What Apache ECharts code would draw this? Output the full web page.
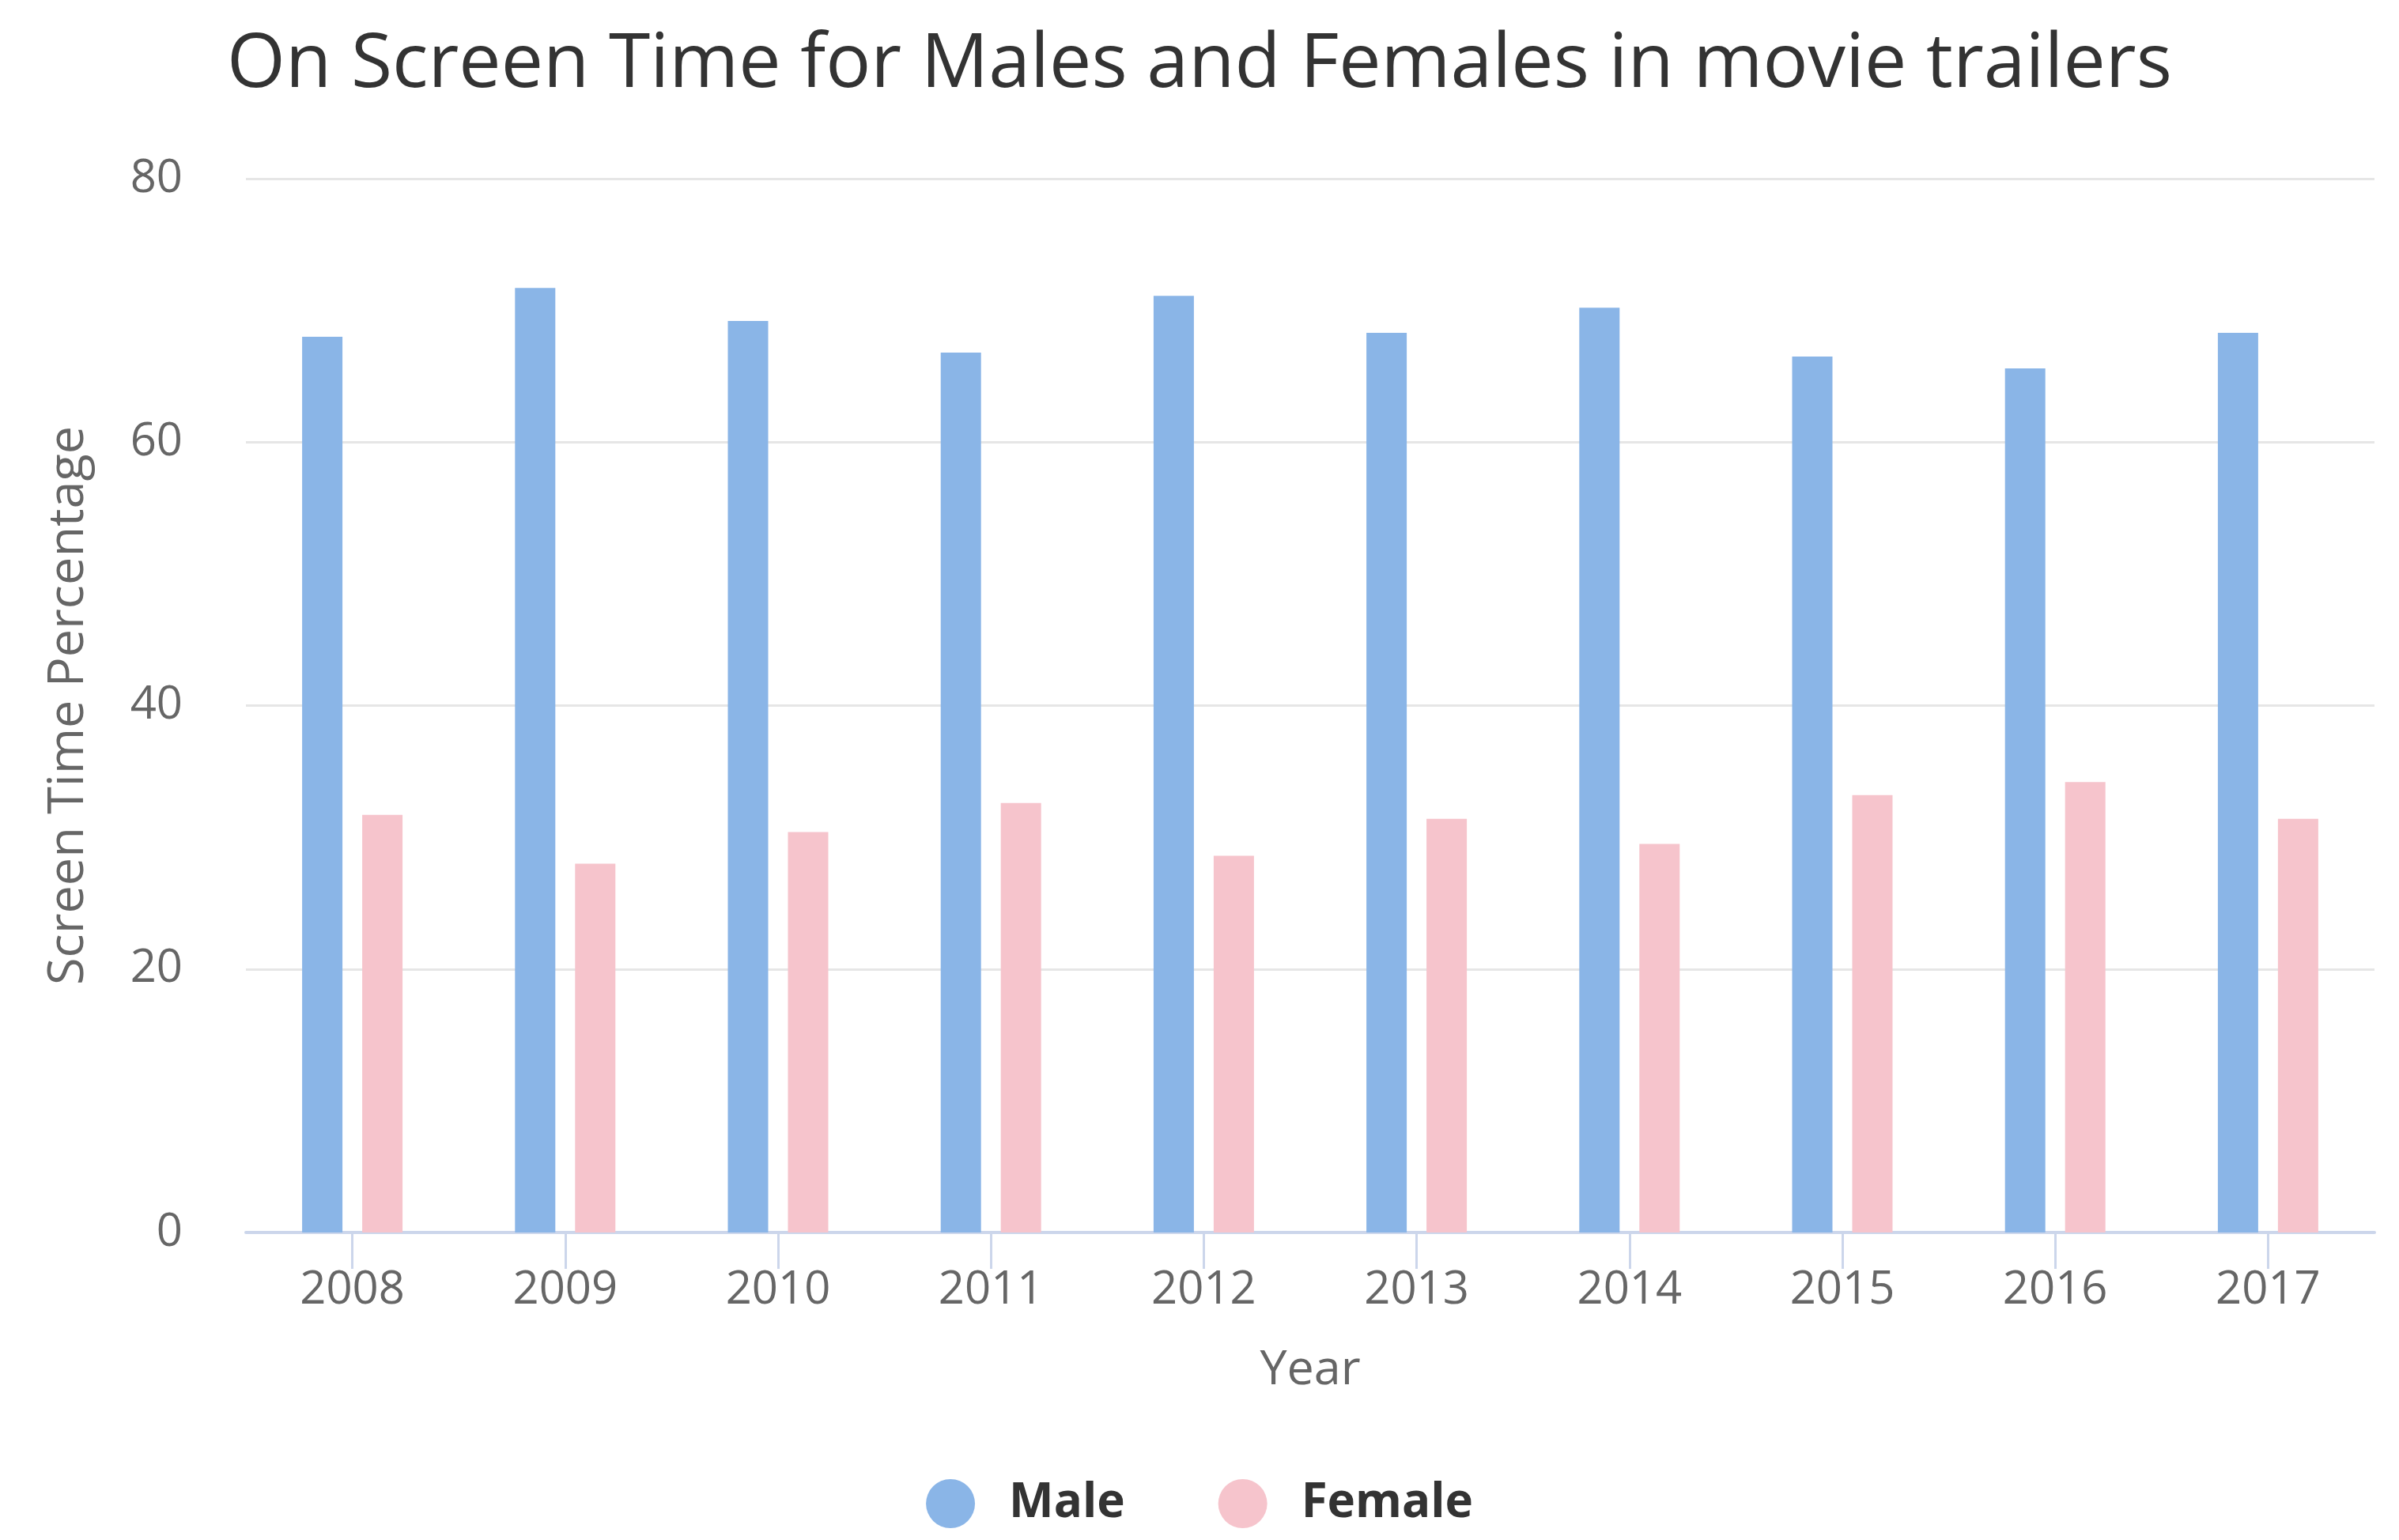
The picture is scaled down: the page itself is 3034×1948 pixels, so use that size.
<!DOCTYPE html>
<html>
<head>
<meta charset="utf-8">
<script src="https://cdn.jsdelivr.net/npm/echarts@6/dist/echarts.min.js"></script>
<style>
html,body{margin:0;padding:0;background:#fff;}
#chart{width:3034px;height:1948px;}
</style>
</head>
<body>
<div id="chart"></div>
<script>
var years = ['2008','2009','2010','2011','2012','2013','2014','2015','2016','2017'];
var male = [68.0, 71.7, 69.2, 66.8, 71.1, 68.3, 70.2, 66.5, 65.6, 68.3];
var female = [31.7, 28.0, 30.4, 32.6, 28.6, 31.4, 29.5, 33.2, 34.2, 31.4];
var yTicks = [0, 20, 40, 60, 80];

var FONT = '"Open Sans", "DejaVu Sans", sans-serif';
var chart = echarts.init(document.getElementById('chart'), null, {renderer: 'canvas'});
chart.setOption({
  animation: false,
  backgroundColor: '#ffffff',
  title: {
    text: 'On Screen Time for Males and Females in movie trailers',
    left: 'center',
    top: 30,
    textStyle: {fontFamily: FONT, fontSize: 95, fontWeight: 'normal', color: '#333333'}
  },
  legend: {
    data: ['Male', 'Female'],
    left: 'center',
    top: 1866,
    icon: 'circle',
    itemWidth: 62,
    itemHeight: 62,
    itemGap: 118,
    textStyle: {fontFamily: FONT, fontSize: 60, fontWeight: 'bold', color: '#333333', padding: [0, 0, 0, 38]}
  },
  grid: {left: 311, right: 31, top: 226, bottom: 389, containLabel: false},
  xAxis: {
    type: 'category',
    data: years,
    name: 'Year',
    nameLocation: 'middle',
    nameGap: 144,
    nameTextStyle: {fontFamily: FONT, fontSize: 61, color: '#666666'},
    axisLine: {show: true, lineStyle: {color: '#ccd6eb', width: 4}},
    axisTick: {show: true, alignWithLabel: true, length: 46, lineStyle: {color: '#ccd6eb', width: 3}},
    axisLabel: {fontFamily: FONT, fontSize: 58, color: '#666666', margin: 44},
    splitLine: {show: false}
  },
  yAxis: {
    type: 'value',
    min: yTicks[0],
    max: yTicks[yTicks.length - 1],
    interval: yTicks[1] - yTicks[0],
    name: 'Screen Time Percentage',
    nameLocation: 'middle',
    nameRotate: 90,
    nameGap: 192,
    nameTextStyle: {fontFamily: FONT, fontSize: 63, color: '#666666'},
    axisLine: {show: false},
    axisTick: {show: false},
    axisLabel: {fontFamily: FONT, fontSize: 58, color: '#666666', margin: 80},
    splitLine: {show: true, lineStyle: {color: '#e6e6e6', width: 3}}
  },
  series: [
    {name: 'Male', type: 'bar', data: male, barWidth: 51, barGap: '49%', itemStyle: {color: '#8ab5e7'}},
    {name: 'Female', type: 'bar', data: female, barWidth: 51, barGap: '49%', itemStyle: {color: '#f6c4cc'}}
  ]
});
</script>
</body>
</html>
